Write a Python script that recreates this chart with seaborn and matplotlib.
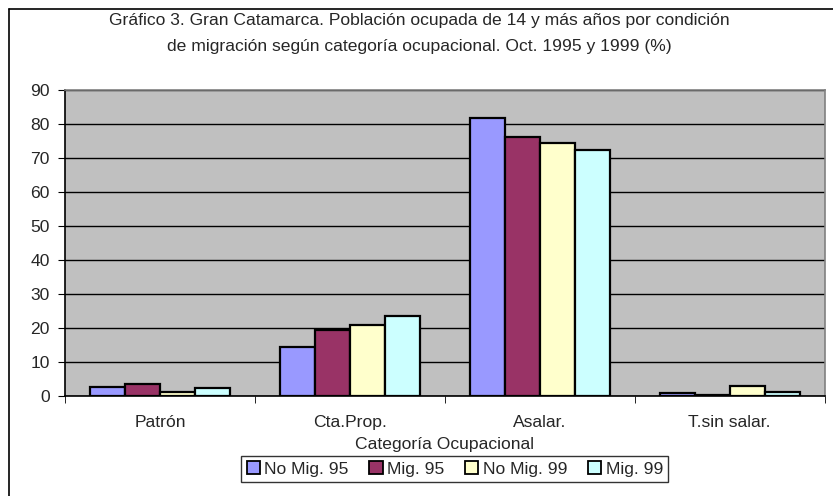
import numpy as np
import pandas as pd
import matplotlib.pyplot as plt
import seaborn as sns
from matplotlib.lines import Line2D
from matplotlib.patches import Patch
from matplotlib.ticker import MultipleLocator, FixedLocator

categorias = ["Patrón", "Cta.Prop.", "Asalar.", "T.sin salar."]
series = ["No Mig. 95", "Mig. 95", "No Mig. 99", "Mig. 99"]
no_mig_95 = [2.7, 14.4, 81.7, 0.9]
mig_95 = [3.5, 19.4, 76.3, 0.4]
no_mig_99 = [1.3, 20.8, 74.3, 3.0]
mig_99 = [2.5, 23.5, 72.3, 1.2]
colores = ["#9999FF", "#993366", "#FFFFCC", "#CCFFFF"]

valores = [no_mig_95, mig_95, no_mig_99, mig_99]
df = pd.DataFrame({
    "categoria": categorias * len(series),
    "serie": np.repeat(series, len(categorias)),
    "valor": np.concatenate(valores),
})

sns.set_style("white")
plt.rcParams["font.family"] = ["Liberation Sans", "DejaVu Sans"]
fs = 12.6

fig = plt.figure(figsize=(8.33, 4.96), dpi=100)
ax = fig.add_axes([0.078, 0.2016, 0.912, 0.617])
ax.set_facecolor("#C0C0C0")

sns.barplot(data=df, x="categoria", y="valor", hue="serie", order=categorias,
            hue_order=series, palette=colores, saturation=1, width=0.737, gap=0,
            edgecolor="black", linewidth=1.6, legend=False, ax=ax, zorder=3)

ax.set_ylim(0, 90)
ax.set_xlim(-0.5, 3.5)
ax.yaxis.set_major_locator(MultipleLocator(10))
ax.grid(axis="y", color="black", linewidth=1, zorder=0)
ax.set_axisbelow(True)

# etiquetas centradas, marcas entre categorías
ax.tick_params(axis="x", which="major", length=0, pad=14, labelsize=fs)
ax.xaxis.set_minor_locator(FixedLocator([-0.5, 0.5, 1.5, 2.5, 3.5]))
ax.tick_params(axis="x", which="minor", length=5, color="black", direction="out", bottom=True)
ax.tick_params(axis="y", length=5, color="black", direction="out", left=True, labelsize=fs, pad=6)

for s in ["top", "right"]:
    ax.spines[s].set_color("#808080")
for s in ["left", "bottom"]:
    ax.spines[s].set_color("black")
for s in ax.spines.values():
    s.set_linewidth(1.2)

ax.set_ylabel("")
ax.set_xlabel("Categoría Ocupacional", fontsize=fs, labelpad=5)

fig.text(0.503, 0.959, "Gráfico 3. Gran Catamarca. Población ocupada de 14 y más años por condición",
         ha="center", va="center", fontsize=fs)
fig.text(0.503, 0.906, "de migración según categoría ocupacional. Oct. 1995 y 1999 (%)",
         ha="center", va="center", fontsize=fs)

handles = [Patch(facecolor=c, edgecolor="black", linewidth=1.3) for c in colores]
leg = fig.legend(handles, series, loc="center", bbox_to_anchor=(0.546, 0.054), ncol=4,
                 frameon=True, fancybox=False, edgecolor="black", fontsize=fs,
                 handlelength=0.75, handleheight=0.75, handletextpad=0.25,
                 columnspacing=1.2, borderpad=0.3, borderaxespad=0)
leg.get_frame().set_linewidth(1)

# marco exterior (solo arriba e izquierda visibles)
fig.add_artist(Line2D([0.011, 1.0], [0.982, 0.982], transform=fig.transFigure, color="black", linewidth=1.2))
fig.add_artist(Line2D([0.011, 0.011], [0.0, 0.982], transform=fig.transFigure, color="black", linewidth=1.2))

fig.savefig("out.png", dpi=100)
